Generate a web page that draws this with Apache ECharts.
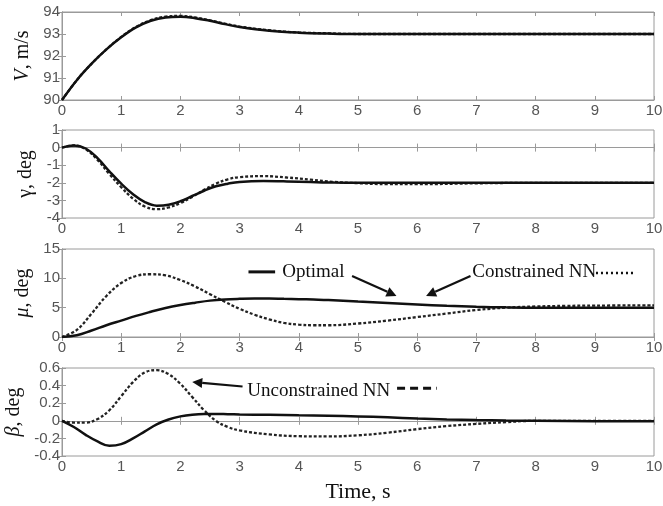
<!DOCTYPE html>
<html>
<head>
<meta charset="utf-8">
<script src="https://cdn.jsdelivr.net/npm/echarts@6/dist/echarts.min.js"></script>
<style>
html,body{margin:0;padding:0;background:#fff;}
#main{width:663px;height:506px;}
</style>
</head>
<body>
<div id="main"></div>
<script>
// panel 1 - V, m/s
var tV = [0,0.25,0.5,0.75,1,1.25,1.5,1.75,2,2.25,2.5,2.75,3,3.5,4,4.5,5,6,7,8,9,10];
var vOpt = [90,90.9,91.65,92.3,92.85,93.3,93.6,93.75,93.78,93.72,93.6,93.45,93.32,93.15,93.06,93.02,93.0,93,93,93,93,93];
var vNN = [90,90.9,91.65,92.3,92.87,93.32,93.63,93.79,93.82,93.75,93.62,93.47,93.34,93.17,93.07,93.03,93.0,93,93,93,93,93];
// panel 2 - gamma
var tG = [0,0.2,0.4,0.6,0.8,1,1.2,1.4,1.6,1.8,2,2.2,2.4,2.6,2.8,3,3.4,3.8,4.2,4.6,5,5.5,6,7,8,10];
var gOpt = [0,0.12,-0.05,-0.6,-1.35,-2.05,-2.65,-3.1,-3.3,-3.25,-3.05,-2.75,-2.45,-2.2,-2.05,-1.95,-1.9,-1.92,-1.96,-1.99,-2.0,-2.0,-2.0,-2.0,-2.0,-2.0];
var gNN = [0,0.12,-0.1,-0.7,-1.5,-2.25,-2.9,-3.35,-3.5,-3.4,-3.15,-2.8,-2.4,-2.05,-1.8,-1.68,-1.62,-1.7,-1.82,-1.95,-2.02,-2.08,-2.08,-2.03,-2.0,-2.0];
// panel 3 - mu
var tM = [0,0.25,0.5,0.75,1,1.25,1.5,1.75,2,2.25,2.5,2.75,3,3.25,3.5,3.75,4,4.25,4.5,5,5.5,6,6.5,7,7.5,8,8.5,9,10];
var mOpt = [0,0.3,1.1,2.0,2.8,3.6,4.3,4.95,5.45,5.85,6.2,6.4,6.5,6.55,6.55,6.5,6.45,6.38,6.3,6.05,5.8,5.55,5.32,5.15,5.05,5.0,5.0,5.0,5.0];
var mNN = [0,1.2,4.0,7.0,9.2,10.4,10.7,10.5,9.7,8.6,7.3,6.0,4.8,3.8,3.0,2.4,2.1,2.0,2.0,2.3,2.8,3.4,4.0,4.6,5.0,5.2,5.3,5.35,5.4];
// panel 4 - beta
var tB = [0,0.2,0.4,0.6,0.8,1,1.2,1.4,1.6,1.8,2,2.2,2.4,2.6,2.8,3,3.5,4,4.5,5,5.5,6,6.5,7,7.5,8,9,10];
var bOpt = [0,-0.07,-0.16,-0.235,-0.283,-0.265,-0.2,-0.12,-0.04,0.015,0.05,0.07,0.078,0.078,0.075,0.072,0.068,0.062,0.058,0.05,0.04,0.025,0.015,0.008,0.003,0,-0.005,-0.005];
var bNN = [0,-0.02,-0.02,0.02,0.12,0.28,0.44,0.55,0.575,0.53,0.42,0.27,0.12,0.0,-0.07,-0.11,-0.155,-0.175,-0.178,-0.165,-0.135,-0.095,-0.06,-0.035,-0.015,0,0,0];

var yNames = ['{i|V}, m/s', '{n|γ}, deg', '{i|μ}, deg', '{i|β}, deg'];
var yMin = [90, -4, 0, -0.4];
var yMax = [94, 1, 15, 0.6];
var yStep = [1, 1, 5, 0.2];
var gridTops = [12, 130, 249, 368];

var sansFont = 'Liberation Sans';
var serifFont = 'Liberation Serif';
var lineCol = '#111';
var axisCol = '#9a9a9a';

function pairs(t, v){
	return t.map(function(x, i){ return [x, v[i]]; });
}

var grids = [], xAxes = [], yAxes = [], series = [];
var panels = [[tV,vOpt,vNN],[tG,gOpt,gNN],[tM,mOpt,mNN],[tB,bOpt,bNN]];

for (var i = 0; i < 4; i++) {
	grids.push({left: 62, right: 9, top: gridTops[i], height: 88, show: true, borderColor: axisCol, borderWidth: 1, containLabel: false, outerBoundsMode: 'none'});
	xAxes.push({
		type: 'value', gridIndex: i, min: 0, max: 10, interval: 1, position: 'bottom',
		axisLine: {lineStyle: {color: axisCol}},
		axisTick: {inside: true, length: 4, lineStyle: {color: axisCol}},
		axisLabel: {color: '#555', fontFamily: sansFont, fontSize: 15, margin: 3},
		splitLine: {show: false},
		name: i == 3 ? 'Time, s' : '',
		nameLocation: 'middle', nameGap: 25,
		nameTextStyle: {fontFamily: serifFont, fontSize: 22, color: '#111'}
	});
	xAxes.push({
		type: 'value', gridIndex: i, min: 0, max: 10, interval: 1, position: 'top',
		axisLine: {lineStyle: {color: axisCol}},
		axisTick: {inside: true, length: 4, lineStyle: {color: axisCol}},
		axisLabel: {show: false}, splitLine: {show: false}
	});
	yAxes.push({
		type: 'value', gridIndex: i, min: yMin[i], max: yMax[i], interval: yStep[i], position: 'left',
		axisLine: {show: true, lineStyle: {color: axisCol}},
		axisTick: {show: true, inside: true, length: 4, lineStyle: {color: axisCol}},
		axisLabel: {color: '#555', fontFamily: sansFont, fontSize: 15, margin: 2},
		splitLine: {show: false},
		name: yNames[i], nameLocation: 'middle', nameRotate: 90, nameGap: i == 3 ? 32 : 26,
		nameTextStyle: {
			fontFamily: serifFont, fontSize: 20, color: '#111',
			rich: {
				i: {fontFamily: serifFont, fontSize: 20, fontStyle: 'italic', color: '#111'},
				n: {fontFamily: serifFont, fontSize: 20, color: '#111'}
			}
		}
	});
	yAxes.push({
		type: 'value', gridIndex: i, min: yMin[i], max: yMax[i], interval: yStep[i], position: 'right',
		axisLine: {show: true, lineStyle: {color: axisCol}},
		axisTick: {show: true, inside: true, length: 4, lineStyle: {color: axisCol}},
		axisLabel: {show: false}, splitLine: {show: false}
	});
	series.push({
		type: 'line', xAxisIndex: 2 * i, yAxisIndex: 2 * i, smooth: 0.4, symbol: 'none',
		data: pairs(panels[i][0], panels[i][2]),
		lineStyle: {color: '#222', width: 2.3, type: [3, 2]}
	});
	series.push({
		type: 'line', xAxisIndex: 2 * i, yAxisIndex: 2 * i, smooth: 0.4, symbol: 'none',
		data: pairs(panels[i][0], panels[i][1]),
		lineStyle: {color: lineCol, width: 2.5}
	});
}

var chart = echarts.init(document.getElementById('main'));
chart.setOption({
	animation: false,
	grid: grids,
	xAxis: xAxes,
	yAxis: yAxes,
	series: series
});

// annotations (arrows and legend texts)
function px(g, p){ return chart.convertToPixel({gridIndex: g}, p); }
function arrow(a, b){
	var dx = b[0] - a[0], dy = b[1] - a[1];
	var len = Math.sqrt(dx * dx + dy * dy), ux = dx / len, uy = dy / len;
	var h = 10, w = 5;
	var base = [b[0] - ux * h, b[1] - uy * h];
	return [
		{type: 'line', shape: {x1: a[0], y1: a[1], x2: base[0], y2: base[1]}, style: {stroke: '#111', lineWidth: 2.2}},
		{type: 'polygon', shape: {points: [b, [base[0] - uy * w, base[1] + ux * w], [base[0] + uy * w, base[1] - ux * w]]}, style: {fill: '#111'}}
	];
}
var txtStyle = {fontFamily: serifFont, fontSize: 19, fill: '#111'};
var g = [];
var o1 = px(2, [3.15, 11.1]), o2 = px(2, [3.6, 11.1]);
g.push({type: 'line', shape: {x1: o1[0], y1: o1[1], x2: o2[0], y2: o2[1]}, style: {stroke: '#111', lineWidth: 3}});
var ot = px(2, [3.72, 11.1]);
g.push({type: 'text', x: ot[0], y: ot[1], style: Object.assign({text: 'Optimal', verticalAlign: 'middle'}, txtStyle)});
g = g.concat(arrow(px(2, [4.9, 10.4]), px(2, [5.65, 7.0])));
g = g.concat(arrow(px(2, [6.9, 10.4]), px(2, [6.15, 7.0])));
var ct = px(2, [6.93, 11.1]);
g.push({type: 'text', x: ct[0], y: ct[1], style: Object.assign({text: 'Constrained NN', verticalAlign: 'middle'}, txtStyle)});
var c1 = px(2, [9.02, 10.9]), c2 = px(2, [9.68, 10.9]);
g.push({type: 'line', shape: {x1: c1[0], y1: c1[1], x2: c2[0], y2: c2[1]}, style: {stroke: '#111', lineWidth: 2.5, lineDash: [2, 3]}});
var ut = px(3, [3.13, 0.34]);
g.push({type: 'text', x: ut[0], y: ut[1], style: Object.assign({text: 'Unconstrained NN', verticalAlign: 'middle'}, txtStyle)});
g = g.concat(arrow(px(3, [3.05, 0.39]), px(3, [2.2, 0.44])));
var u1 = px(3, [5.66, 0.37]), u2 = px(3, [6.33, 0.37]);
g.push({type: 'line', shape: {x1: u1[0], y1: u1[1], x2: u2[0], y2: u2[1]}, style: {stroke: '#111', lineWidth: 3, lineDash: [8, 5]}});
chart.setOption({graphic: g});
</script>
</body>
</html>
